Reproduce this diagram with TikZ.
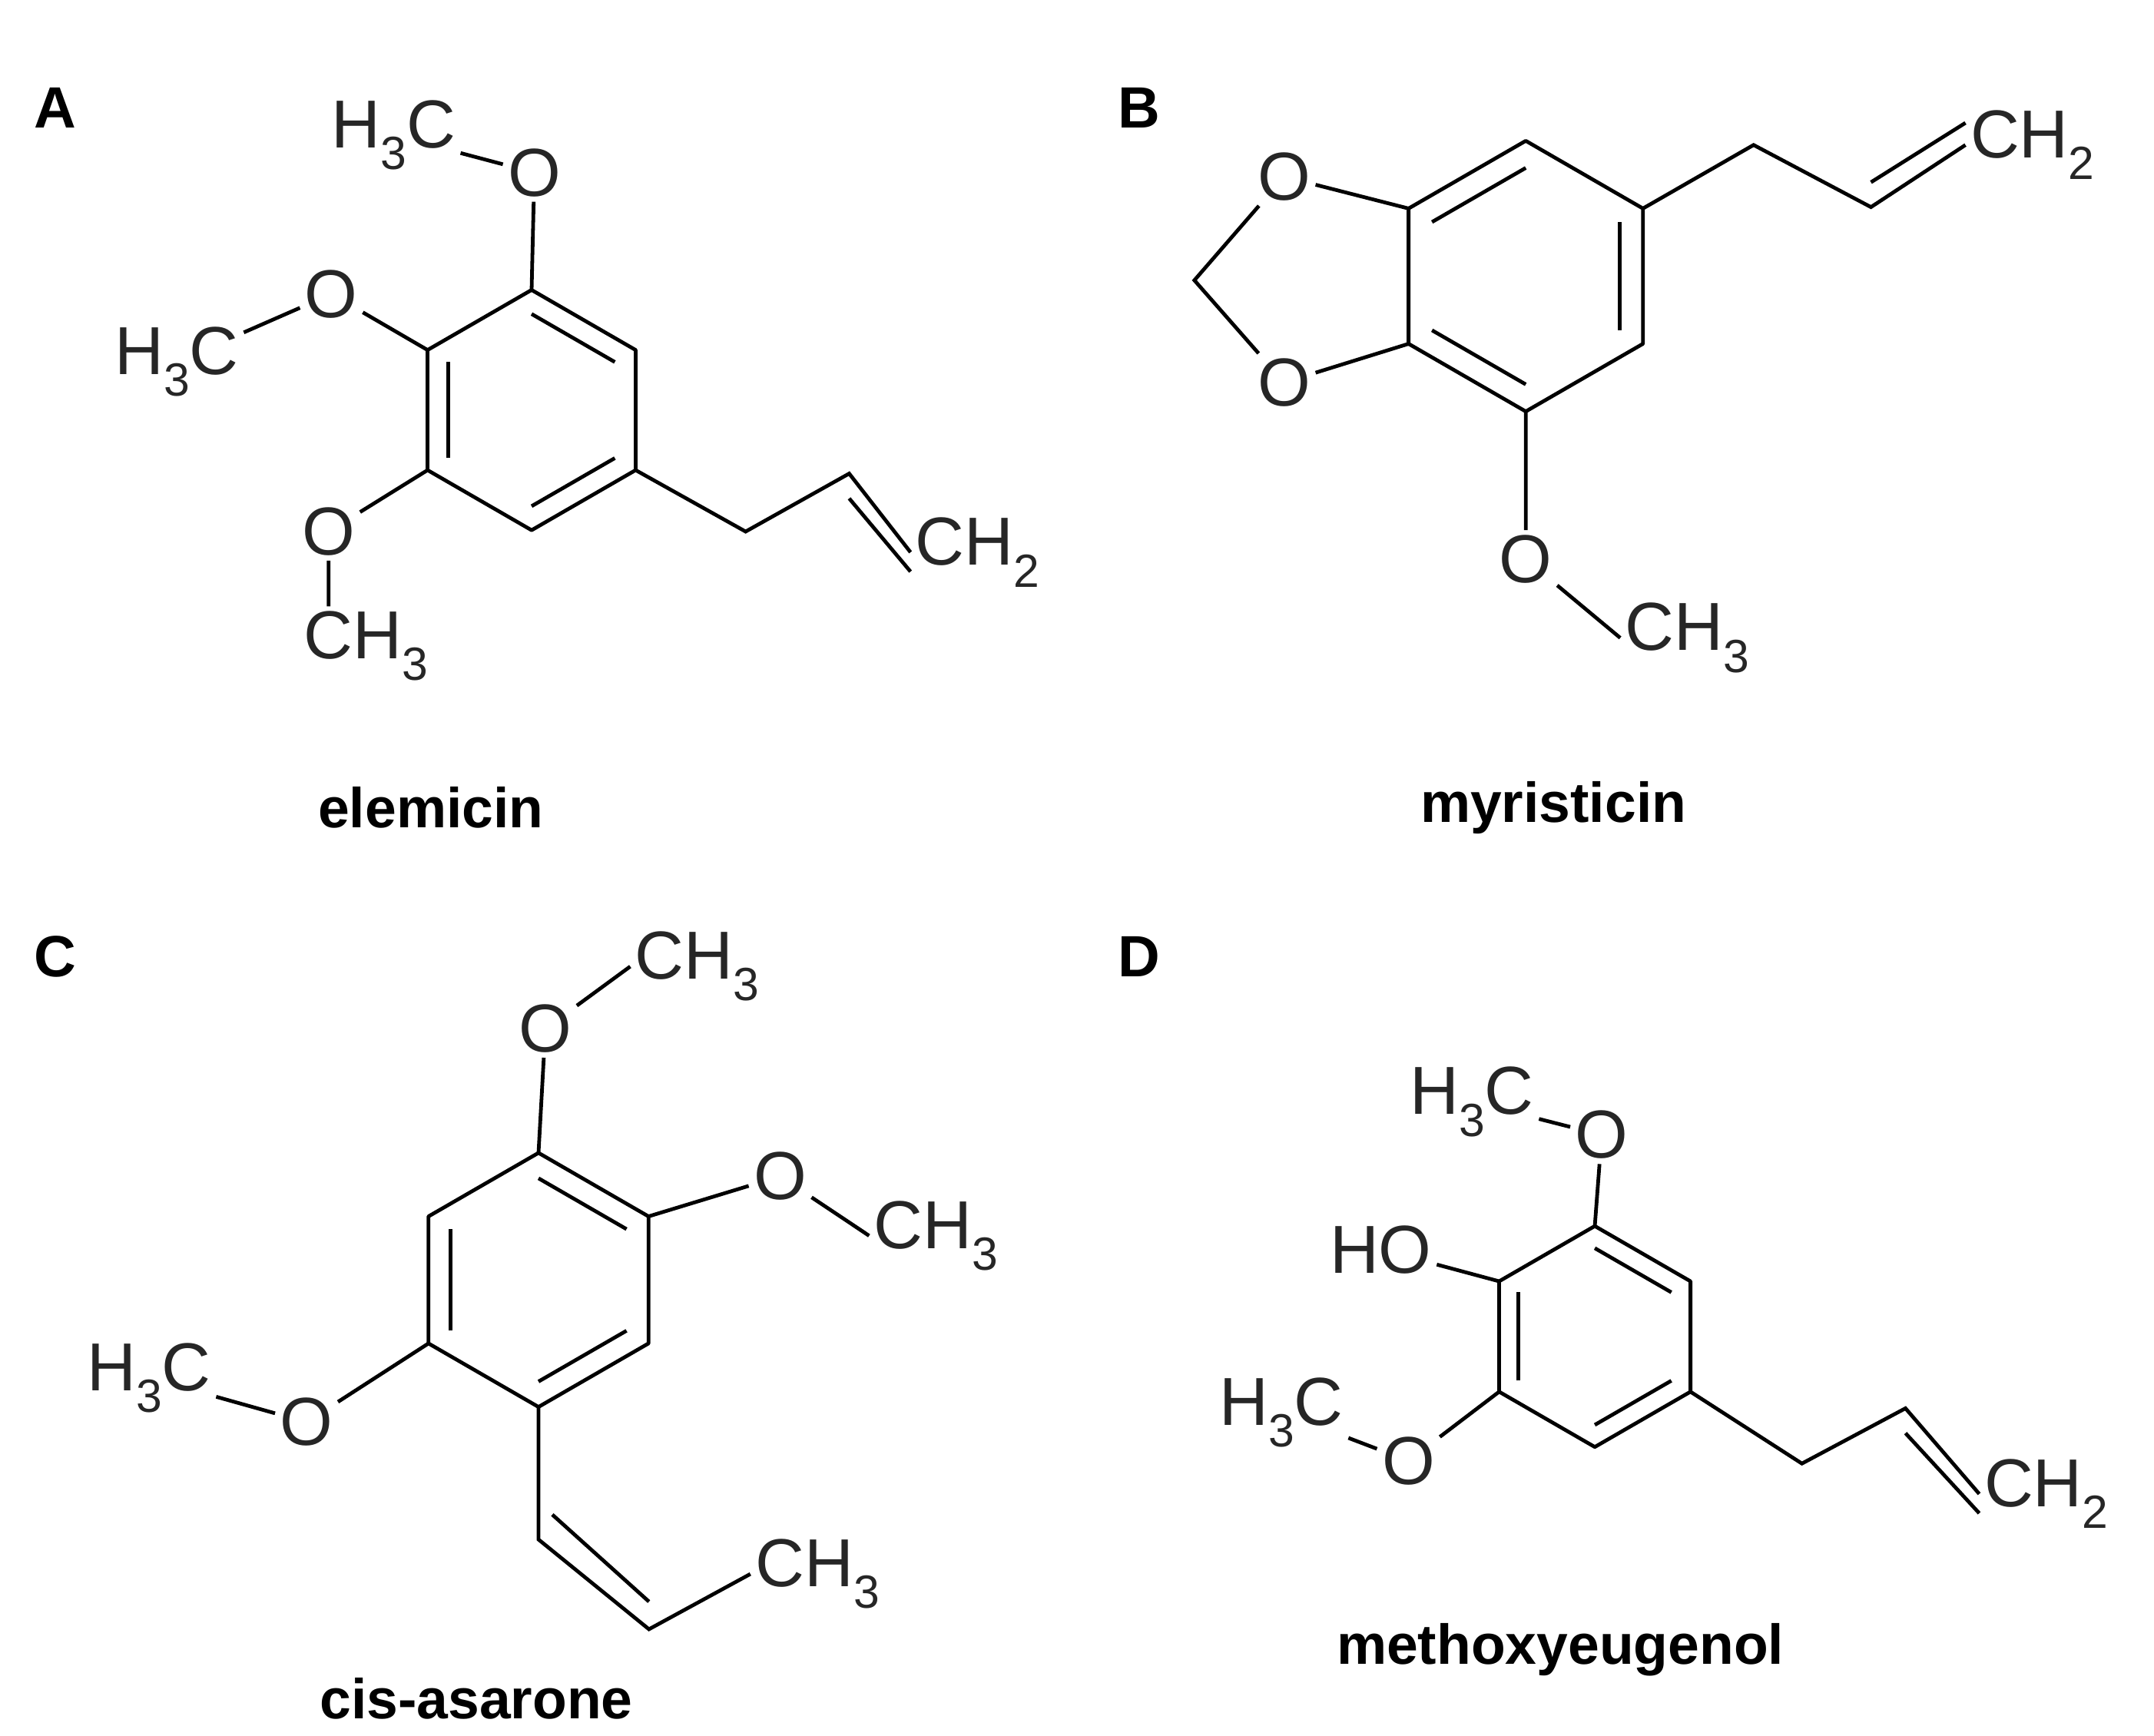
\documentclass[tikz,border=0pt]{standalone}
\usepackage{fontspec}
\setmainfont{Liberation Sans}
\usetikzlibrary{calc}
\newcommand{\sbs}[1]{\raisebox{-0.32em}{\fontsize{48}{50}\selectfont #1}}
\begin{document}
\begin{tikzpicture}[x=0.05cm,y=-0.05cm,
  bond/.style={line width=3.8pt},
  atom/.style={font=\fontsize{70}{72}\selectfont,inner sep=5pt,text=black!85},
  lbl/.style={font=\fontsize{60}{62}\selectfont\bfseries},
  cname/.style={font=\fontsize{58}{60}\selectfont\bfseries}]
\useasboundingbox (0,0) rectangle (1560,1257);
\newcommand{\ring}[7]{%
 \coordinate (#1c) at (#2,#3);
 \foreach \i/\a in {1/90,2/30,3/-30,4/-90,5/-150,6/150}{\coordinate (#1\i) at ($(#2,#3)+(\a:#4 and -#4)$);}
 \draw[bond,line join=round] (#11)--(#12)--(#13)--(#14)--(#15)--(#16)--cycle;
 \foreach \p/\q in {#5,#6,#7}{\draw[bond] ($(#1\p)!0.2!(#1c)$)--($(#1\q)!0.2!(#1c)$);}}
% labels
\node[lbl] (la) at (40,78) {A};
\node[lbl] (lb) at (825,78) {B};
\node[lbl] (lc) at (40,693) {C};
\node[lbl] (ld) at (825,693) {D};
% ---- A
\ring{a}{385}{297}{87}{1/2}{3/4}{5/6}
\node[atom] (aO1) at (387,125) {O};
\node[atom] (aM1) at (285,98) {H\sbs{3}C};
\node[atom] (aO2) at (240,213) {O};
\node[atom] (aM2) at (128,262) {H\sbs{3}C};
\node[atom] (aO3) at (238,385) {O};
\node[atom] (aM3) at (265,468) {CH\sbs{3}};
\node[atom] (aCH2) at (708,400) {CH\sbs{2}};
\coordinate (ax1) at (540,385); \coordinate (ax2) at (615,343);
\draw[bond] (aM1)--(aO1) (aO1)--(a1) (aM2)--(aO2) (aO2)--(a6) (aO3)--(a5) (aO3)--(aO3|-aM3.north);
\draw[bond] (a3)--(ax1)--(ax2)--(aCH2.west);
\draw[bond] ($(ax2)+(0,18)$)--($(aCH2.west)+(0,14)$);
% ---- B
\ring{b}{1105}{200}{98}{1/6}{2/3}{4/5}
\node[atom] (bO1) at (930,128) {O};
\node[atom] (bO2) at (930,277) {O};
\coordinate (bm) at (865,203);
\node[atom] (bO3) at (1105,405) {O};
\node[atom] (bM3) at (1222,462) {CH\sbs{3}};
\node[atom] (bCH2) at (1472,105) {CH\sbs{2}};
\coordinate (bx1) at (1270,105); \coordinate (bx2) at (1355,150);
\draw[bond] (b6)--(bO1)--(bm)--(bO2)--(b5) (b4)--(bO3)--(bM3.west);
\draw[bond] (b2)--(bx1)--(bx2)--(bCH2.west);
\draw[bond] ($(bx2)+(0,-18)$)--($(bCH2.west)+(0,-16)$);
% ---- C
\ring{c}{390}{927}{92}{1/2}{3/4}{5/6}
\node[atom] (cO1) at (395,745) {O};
\node[atom] (cM1) at (505,700) {CH\sbs{3}};
\node[atom] (cO2) at (565,852) {O};
\node[atom] (cM2) at (678,895) {CH\sbs{3}};
\node[atom] (cO3) at (222,1030) {O};
\node[atom] (cM3) at (108,998) {H\sbs{3}C};
\node[atom] (cM4) at (592,1140) {CH\sbs{3}};
\coordinate (cx1) at (390,1115); \coordinate (cx2) at (470,1180);
\draw[bond] (c1)--(cO1)--(cM1.west) (c2)--(cO2)--(cM2.west) (c5)--(cO3)--(cM3);
\draw[bond] (c4)--(cx1)--(cx2)--(cM4.west);
\draw[bond] ($(cx1)+(10,-18)$)--($(cx2)+(0,-20)$);
% ---- D
\ring{d}{1155}{968}{80}{1/2}{3/4}{5/6}
\node[atom] (dO1) at (1160,822) {O};
\node[atom] (dM1) at (1066,798) {H\sbs{3}C};
\node[atom] (dOH) at (1000,905) {HO};
\node[atom] (dO2) at (1020,1058) {O};
\node[atom] (dM2) at (928,1023) {H\sbs{3}C};
\node[atom] (dCH2) at (1482,1082) {CH\sbs{2}};
\coordinate (dx1) at (1305,1060); \coordinate (dx2) at (1380,1020);
\draw[bond] (d1)--(dO1)--(dM1) (d6)--(dOH) (d5)--(dO2)--(dM2);
\draw[bond] (d3)--(dx1)--(dx2)--(dCH2.west);
\draw[bond] ($(dx2)+(0,18)$)--($(dCH2.west)+(0,14)$);
% names
\node[cname] (n1) at (312,585) {elemicin};
\node[cname] (n2) at (1125,585) {myristicin};
\node[cname] (n3) at (345,1230) {cis-asarone};
\node[cname] (n4) at (1130,1195) {methoxyeugenol};
\end{tikzpicture}
\end{document}
